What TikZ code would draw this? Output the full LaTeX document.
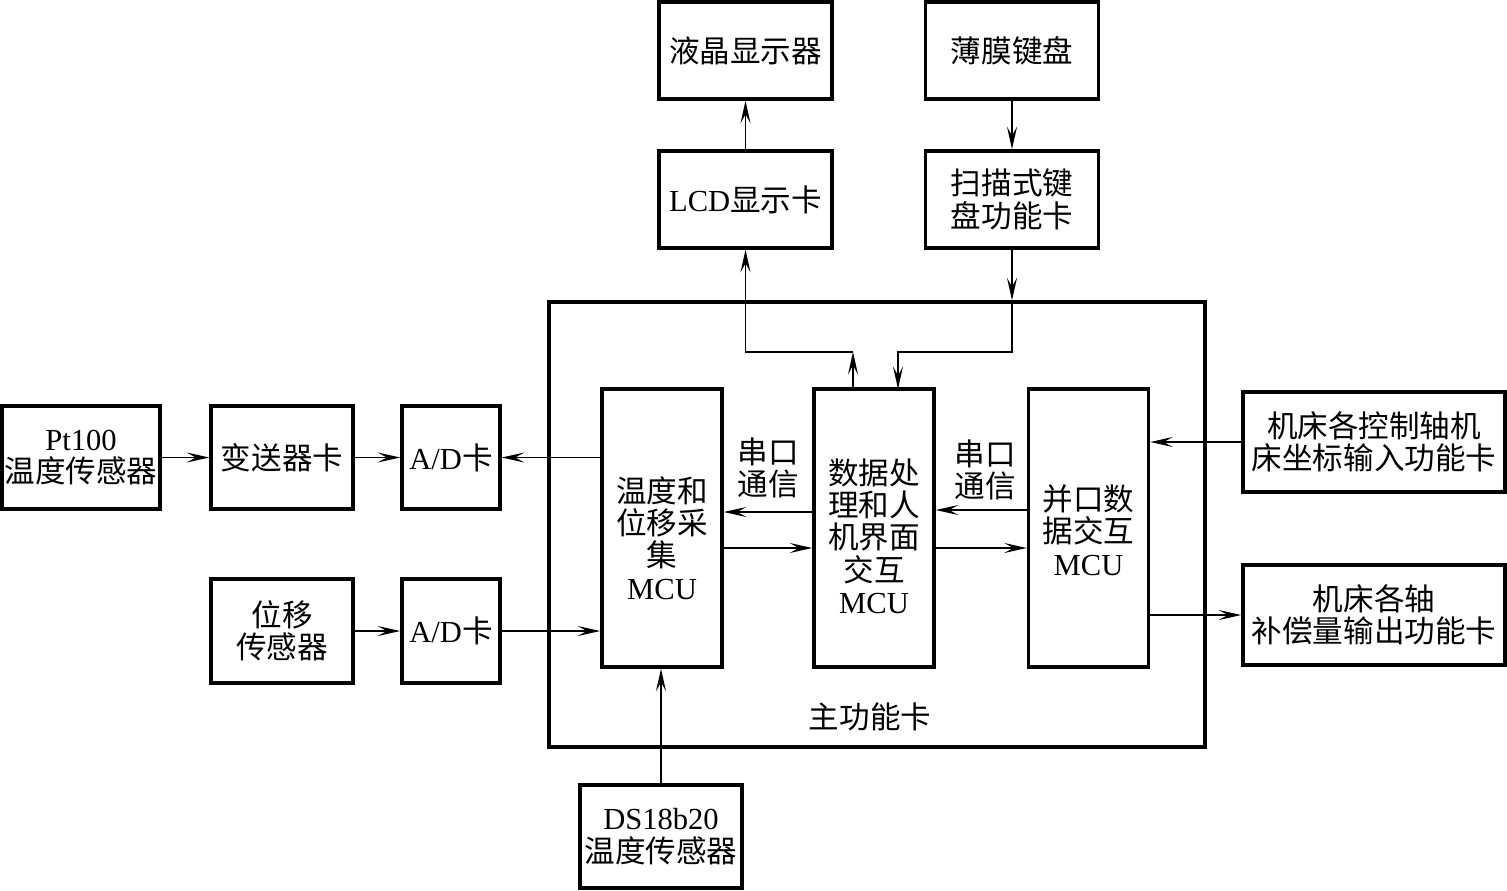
\documentclass[tikz,border=0pt]{standalone}
\usepackage{fontspec}
\setmainfont{Noto Sans CJK SC}
\newfontfamily\serifen{Liberation Serif}
\usetikzlibrary{arrows.meta}

\begin{document}
\begin{tikzpicture}[
x=0.02cm,y=-0.02cm,
font=\fontsize{17.4}{18.4}\selectfont,
box/.style={draw,line width=2pt,align=center,inner sep=1pt},
topbox/.style={box,minimum width=3.46cm,minimum height=1.94cm},
mcu/.style={box,minimum width=2.4cm,minimum height=5.56cm},
arr/.style={-{Stealth[length=4.5mm,width=2mm,inset=1.8mm]},line width=1.1pt}
]
\useasboundingbox (0,0) rectangle (1507,890);
\node[topbox] (lcdscreen) at (745.5,50.5) {液晶显示器};
\node[topbox] (keyboard) at (1012,50.5) {薄膜键盘};
\node[topbox] (lcdcard) at (745.5,199.5) {{\serifen LCD}显示卡};
\node[topbox] (keycard) at (1012,199.5) {扫描式键\\盘功能卡};
\node[box,minimum width=13.12cm,minimum height=8.9cm] (mainboard) at (877,524.5) {};
\node (mainlabel) at (870,717) {主功能卡};
\node[mcu] (acqmcu) at (662,528) {};
\node (acqtext) at (662,538) [align=center] {温度和\\位移采\\集\\{\serifen MCU}};
\node[mcu] (procmcu) at (874,528) {};
\node (proctext) at (874,536) [align=center] {数据处\\理和人\\机界面\\交互\\{\serifen MCU}};
\node[mcu] (parmcu) at (1088.5,528) {};
\node (partext) at (1088.5,530) [align=center] {并口数\\据交互\\{\serifen MCU}};
\node[box,minimum width=3.16cm,minimum height=2.06cm] (ptsensor) at (81,457.5) {{\serifen Pt100}\\温度传感器};
\node[box,minimum width=2.84cm,minimum height=2.06cm] (transmitter) at (282,457.5) {变送器卡};
\node[box,minimum width=1.96cm,minimum height=2.06cm] (adcone) at (451,457.5) {{\serifen A/D}卡};
\node[box,minimum width=2.84cm,minimum height=2.08cm] (dispsensor) at (282,631) {位移\\传感器};
\node[box,minimum width=1.96cm,minimum height=2.08cm] (adctwo) at (451,631) {{\serifen A/D}卡};
\node[box,minimum width=3.24cm,minimum height=2.06cm] (dssensor) at (661,836.5) {{\serifen DS18b20}\\温度传感器};
\node[box,minimum width=5.24cm,minimum height=2cm] (axisin) at (1374,442) {机床各控制轴机\\床坐标输入功能卡};
\node[box,minimum width=5.24cm,minimum height=2cm] (compout) at (1374,615) {机床各轴\\补偿量输出功能卡};
\node[align=center] (serleft) at (768,468) {串口\\通信};
\node[align=center] (serright) at (985,470) {串口\\通信};
% display and keyboard
\draw[arr] (lcdcard.north) -- (lcdscreen.south);
\draw[arr] (keyboard.south) -- (keycard.north);
\coordinate (lcdjoin) at (853,352);
\draw[arr] (lcdjoin |- procmcu.north) -- (lcdjoin);
\draw[arr] (lcdjoin) -| (lcdcard.south);
\draw[arr] (keycard.south) -- (keycard.south |- mainboard.north);
\draw[arr] (keycard.south |- mainboard.north) |- (898,352) -- (898,389);
% sensors
\draw[arr] (ptsensor.east) -- (transmitter.west);
\draw[arr] (transmitter.east) -- (adcone.west);
\draw[arr] (acqmcu.west |- adcone.east) -- (adcone.east);
\draw[arr] (dispsensor.east) -- (adctwo.west);
\draw[arr] (adctwo.east) -- (acqmcu.west |- adctwo.east);
\draw[arr] (dssensor.north) -- (dssensor.north |- acqmcu.south);
% serial links
\draw[arr] ([yshift=0.32cm]procmcu.west) -- ([yshift=0.32cm]acqmcu.east);
\draw[arr] ([yshift=-0.4cm]acqmcu.east) -- ([yshift=-0.4cm]procmcu.west);
\draw[arr] ([yshift=0.36cm]parmcu.west) -- ([yshift=0.36cm]procmcu.east);
\draw[arr] ([yshift=-0.4cm]procmcu.east) -- ([yshift=-0.4cm]parmcu.west);
% machine tool cards
\draw[arr] (axisin.west) -- (parmcu.east |- axisin.west);
\draw[arr] (parmcu.east |- compout.west) -- (compout.west);
\end{tikzpicture}
\end{document}
